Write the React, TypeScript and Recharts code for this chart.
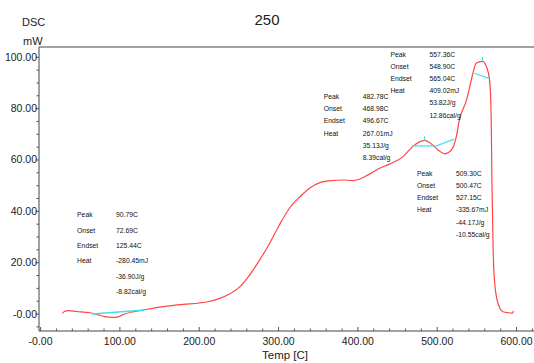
import React from 'react';
import { LineChart, Line, XAxis, YAxis, ReferenceLine, ReferenceDot } from 'recharts';

// DSC curve, temperature [C] vs heat flow [mW]
const temps = [
  27.4, 30, 34.5, 45, 62, 72, 81, 90, 96, 106, 115, 125, 146, 165, 180, 200, 209, 226, 238, 251,
  263.5, 276, 289, 301, 314, 327, 339, 352, 364, 381, 393, 402, 415, 427.5, 440, 457, 469, 484, 494, 501,
  509.5, 518, 524, 528, 537, 544, 549, 557, 562, 566, 568, 569, 570.5, 572.5, 576.6, 583, 590, 595, 596,
];
const dsc = [
  0.3, 1.0, 1.3, 1.0, 0.5, -0.2, -1.0, -1.3, -1.2, 0.0, 0.8, 1.3, 2.5, 3.3, 3.8, 4.3, 4.7, 6.1, 7.8, 10.6,
  15.2, 21, 27.7, 34.7, 41.3, 45.7, 49, 51.2, 51.9, 52.2, 52.0, 52.5, 54.6, 56.8, 58.4, 61.3, 65.2, 67.6, 65.9, 63.9,
  62.4, 63.9, 69, 75.6, 83.4, 92.5, 97.7, 98.4, 96.4, 91.2, 77, 51, 25, 12, 4.2, 0.9, 0.5, 0.4, 1.2,
];

// peak baselines drawn by the analysis software
const baseline1 = [{ t: 65, v: 0.0 }, { t: 131, v: 1.6 }];
const baseline2 = [{ t: 467.5, v: 65.5 }, { t: 499, v: 65.5 }, { t: 521, v: 68.1 }];
const baseline3 = [{ t: 547, v: 93.8 }, { t: 565, v: 91.8 }];
const peakMark2 = [{ t: 484, v: 67.6 }, { t: 484, v: 69.2 }];
const peakMark3 = [{ t: 557, v: 98.4 }, { t: 557, v: 100 }];

const xTicks = [0, 100, 200, 300, 400, 500, 600];
const yTicks = [0, 20, 40, 60, 80, 100];
const xMinorStep = 20;
const yMinorStep = 5;

const rowNames = ['Peak', 'Onset', 'Endset', 'Heat', '', ''];
const peakBlocks = [
  { t: 46, v: 38.6, values: ['90.79C', '72.69C', '125.44C', '-280.45mJ', '-36.90J/g', '-8.82cal/g'] },
  { t: 357, v: 84.7, values: ['482.78C', '468.98C', '496.67C', '267.01mJ', '35.13J/g', '8.39cal/g'] },
  { t: 441, v: 101.2, values: ['557.36C', '548.90C', '565.04C', '409.02mJ', '53.82J/g', '12.86cal/g'] },
  { t: 474.5, v: 54.9, values: ['509.30C', '500.47C', '527.15C', '-335.67mJ', '-44.17J/g', '-10.55cal/g'] },
];
const rowGaps = [15.3, 12.2, 12.2, 12.3];

const curve = temps.map((t, i) => ({ t, v: dsc[i] }));
const X_DOMAIN: [number, number] = [-2, 622];
const Y_DOMAIN: [number, number] = [-6.6, 104];

const range = (a: number, b: number, s: number) => {
  const out: number[] = [];
  for (let x = a; x <= b + 1e-9; x += s) out.push(Math.round(x * 100) / 100);
  return out;
};
const xAllTicks = range(0, 620, xMinorStep);
const yAllTicks = range(-5, 100, yMinorStep);

const FONT = '"Liberation Sans Narrow", "Liberation Sans", Arial, sans-serif';
const fmt = (v: number) => (v === 0 ? '-0.00' : v.toFixed(2));

const XTick = (props: any) => {
  const { x, y, payload } = props;
  const major = xTicks.includes(payload.value);
  return (
    <g>
      <line x1={x} x2={x} y1={y} y2={y - (major ? 4 : 2.5)} stroke="#555" />
      {major && (
        <text x={x} y={y + 14} textAnchor="middle" fontSize={10.5} fontFamily={FONT} fill="#222">
          {fmt(payload.value)}
        </text>
      )}
    </g>
  );
};

const YTick = (props: any) => {
  const { x, y, payload } = props;
  const major = yTicks.includes(payload.value);
  return (
    <g>
      <line x1={x} x2={x - (major ? 3.5 : 2.5)} y1={y} y2={y} stroke="#555" />
      {major && (
        <text x={x - 2} y={y + 3.5} textAnchor="end" fontSize={10.5} fontFamily={FONT} fill="#222">
          {fmt(payload.value)}
        </text>
      )}
    </g>
  );
};

const BlockLabel = (props: any) => {
  const { viewBox, values, gap } = props;
  const x = viewBox.x;
  const y = viewBox.y;
  return (
    <g fontSize={6.8} fontFamily={FONT} fill="#111">
      {values.map((val: string, i: number) => (
        <g key={i}>
          {rowNames[i] && (
            <text x={x} y={y + i * gap + 2.5}>
              {rowNames[i]}
            </text>
          )}
          <text x={x + 39} y={y + i * gap + 2.5}>
            {val}
          </text>
        </g>
      ))}
    </g>
  );
};

export default function App() {
  return (
    <div style={{ position: 'absolute', left: 0, top: 0, width: 534, height: 363, background: '#fff', fontFamily: FONT }}>
      <div style={{ position: 'absolute', left: 0, width: 534, top: 11, textAlign: 'center', fontSize: 15, color: '#222' }}>250</div>
      <div style={{ position: 'absolute', left: 22, top: 16, fontSize: 11, color: '#222' }}>DSC</div>
      <div style={{ position: 'absolute', left: 23, top: 35, fontSize: 11, color: '#222' }}>mW</div>
      <div style={{ position: 'absolute', left: 0, width: 570, top: 349, textAlign: 'center', fontSize: 11.5, color: '#222' }}>Temp [C]</div>
      <LineChart width={534} height={363} margin={{ top: 47, right: 0, bottom: 0, left: 0 }}>
        <XAxis
          type="number"
          dataKey="t"
          domain={X_DOMAIN}
          ticks={xAllTicks}
          interval={0}
          tick={<XTick />}
          tickLine={false}
          tickSize={0}
          tickMargin={0}
          height={32}
          stroke="#444"
          allowDataOverflow
        />
        <YAxis
          type="number"
          dataKey="v"
          domain={Y_DOMAIN}
          ticks={yAllTicks}
          interval={0}
          tick={<YTick />}
          tickLine={false}
          tickSize={0}
          tickMargin={0}
          width={39}
          stroke="#444"
          allowDataOverflow
        />
        <ReferenceLine y={Y_DOMAIN[1]} stroke="#444" />
        <Line data={curve} dataKey="v" type="monotone" stroke="#ff4545" strokeWidth={1.2} dot={false} isAnimationActive={false} />
        <Line data={baseline1} dataKey="v" type="linear" stroke="#3fe3ee" strokeWidth={1.6} dot={false} isAnimationActive={false} />
        <Line data={baseline2} dataKey="v" type="linear" stroke="#3fe3ee" strokeWidth={1.2} dot={false} isAnimationActive={false} />
        <Line data={baseline3} dataKey="v" type="linear" stroke="#3fe3ee" strokeWidth={1.2} dot={false} isAnimationActive={false} />
        <Line data={peakMark2} dataKey="v" type="linear" stroke="#3fe3ee" strokeWidth={1.2} dot={false} isAnimationActive={false} />
        <Line data={peakMark3} dataKey="v" type="linear" stroke="#3fe3ee" strokeWidth={1.2} dot={false} isAnimationActive={false} />
        {peakBlocks.map((b, i) => (
          <ReferenceDot
            key={i}
            x={b.t}
            y={b.v}
            r={0}
            fill="none"
            stroke="none"
            ifOverflow="visible"
            label={<BlockLabel values={b.values} gap={rowGaps[i]} />}
          />
        ))}
      </LineChart>
    </div>
  );
}
